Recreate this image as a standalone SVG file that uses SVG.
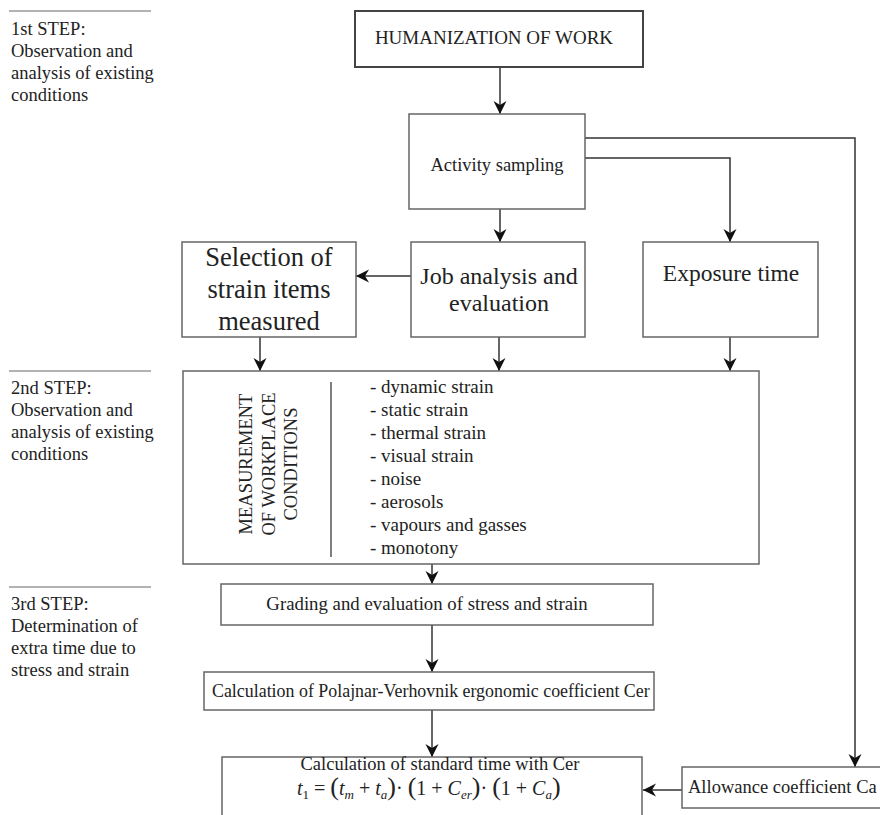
<svg xmlns="http://www.w3.org/2000/svg" width="880" height="815" viewBox="0 0 880 815">
<style>
text{font-family:"Liberation Serif","Times New Roman",serif;fill:#222;}
.box{fill:#fff;stroke:#666;stroke-width:1.5;}
.main{fill:#fff;stroke:#444;stroke-width:2;}
.sep{stroke:#999;stroke-width:1.5;}
.con{fill:none;stroke:#333;stroke-width:1.5;marker-end:url(#ah);}
.div{stroke:#555;stroke-width:1.5;}
.step{font-size:18.5px;}
.it{font-style:italic;}
</style>
<defs>
<marker id="ah" markerUnits="userSpaceOnUse" markerWidth="14" markerHeight="14" refX="13" refY="7" orient="auto">
<path d="M0,0.5 L13,7 L0,13.5 L4,7 z" fill="#111"/>
</marker>
</defs>
<rect width="880" height="815" fill="#fff"/>

<g id="steps">
<line class="sep" x1="9" y1="11" x2="151" y2="11"/>
<text class="step" x="11" y="35">1st STEP:</text>
<text class="step" x="11" y="57">Observation and</text>
<text class="step" x="11" y="79">analysis of existing</text>
<text class="step" x="11" y="101">conditions</text>
<line class="sep" x1="9" y1="371" x2="151" y2="371"/>
<text class="step" x="11" y="394">2nd STEP:</text>
<text class="step" x="11" y="416">Observation and</text>
<text class="step" x="11" y="438">analysis of existing</text>
<text class="step" x="11" y="460">conditions</text>
<line class="sep" x1="9" y1="587" x2="151" y2="587"/>
<text class="step" x="11" y="610">3rd STEP:</text>
<text class="step" x="11" y="632">Determination of</text>
<text class="step" x="11" y="654">extra time due to</text>
<text class="step" x="11" y="676">stress and strain</text>
</g>

<g id="connectors">
<line class="con" x1="500" y1="67" x2="500" y2="114"/>
<line class="con" x1="500" y1="209" x2="500" y2="242"/>
<polyline class="con" points="585,158 730,158 730,242"/>
<polyline class="con" points="585,138 855,138 855,767"/>
<line class="con" x1="411" y1="276" x2="356" y2="276"/>
<line class="con" x1="260" y1="337" x2="260" y2="371"/>
<line class="con" x1="499" y1="337" x2="499" y2="371"/>
<line class="con" x1="730" y1="337" x2="730" y2="371"/>
<line class="con" x1="432" y1="564" x2="432" y2="584"/>
<line class="con" x1="432" y1="625" x2="432" y2="672"/>
<line class="con" x1="432" y1="710" x2="432" y2="757"/>
<line class="con" x1="682" y1="790" x2="643" y2="790"/>
</g>

<g id="humanization">
<rect class="main" x="355" y="11" width="288" height="56"/>
<text x="494" y="44" font-size="19" text-anchor="middle">HUMANIZATION OF WORK</text>
</g>

<g id="activity">
<rect class="box" x="409" y="114" width="176" height="95"/>
<text x="497" y="171" font-size="18.5" text-anchor="middle">Activity sampling</text>
</g>

<g id="selection">
<rect class="box" x="182" y="242" width="174" height="95"/>
<text x="269" y="266" font-size="26.5" text-anchor="middle">Selection of</text>
<text x="269" y="298" font-size="26.5" text-anchor="middle">strain items</text>
<text x="269" y="330" font-size="26.5" text-anchor="middle">measured</text>
</g>

<g id="job">
<rect class="box" x="411" y="242" width="174" height="95"/>
<text x="499" y="284" font-size="24" text-anchor="middle">Job analysis and</text>
<text x="499" y="311" font-size="24" text-anchor="middle">evaluation</text>
</g>

<g id="exposure">
<rect class="box" x="643" y="242" width="175" height="95"/>
<text x="731" y="281" font-size="23.5" text-anchor="middle">Exposure time</text>
</g>

<g id="measurement">
<rect class="box" x="183" y="371" width="576" height="193"/>
<text font-size="18.5" text-anchor="middle" transform="translate(252,464) rotate(-90)">MEASUREMENT</text>
<text font-size="18.5" text-anchor="middle" transform="translate(275,464) rotate(-90)">OF WORKPLACE</text>
<text font-size="18.5" text-anchor="middle" transform="translate(297,464) rotate(-90)">CONDITIONS</text>
<line class="div" x1="331" y1="382" x2="331" y2="557"/>
<text x="370" y="393" font-size="19">- dynamic strain</text>
<text x="370" y="416" font-size="19">- static strain</text>
<text x="370" y="439" font-size="19">- thermal strain</text>
<text x="370" y="462" font-size="19">- visual strain</text>
<text x="370" y="485" font-size="19">- noise</text>
<text x="370" y="508" font-size="19">- aerosols</text>
<text x="370" y="531" font-size="19">- vapours and gasses</text>
<text x="370" y="554" font-size="19">- monotony</text>
</g>

<g id="grading">
<rect class="box" x="221" y="584" width="432" height="41"/>
<text x="427" y="610" font-size="18.8" text-anchor="middle">Grading and evaluation of stress and strain</text>
</g>

<g id="polajnar">
<rect class="box" x="204" y="672" width="450" height="38"/>
<text x="212" y="697" font-size="17.9">Calculation of Polajnar-Verhovnik ergonomic coefficient Cer</text>
</g>

<g id="standard-time">
<rect class="box" x="222" y="757" width="420" height="70"/>
<text x="440" y="770" font-size="18.5" text-anchor="middle">Calculation of standard time with Cer</text>
<text x="297" y="795" font-size="20"><tspan class="it">t</tspan><tspan font-size="13" dy="4">1</tspan><tspan dy="-4"> = </tspan><tspan font-size="26">(</tspan><tspan class="it">t</tspan><tspan class="it" font-size="13" dy="4">m</tspan><tspan dy="-4"> + </tspan><tspan class="it">t</tspan><tspan class="it" font-size="13" dy="4">a</tspan><tspan font-size="26" dy="-4">)</tspan><tspan>· </tspan><tspan font-size="26">(</tspan><tspan>1 + </tspan><tspan class="it">C</tspan><tspan class="it" font-size="13" dy="4">er</tspan><tspan font-size="26" dy="-4">)</tspan><tspan>· </tspan><tspan font-size="26">(</tspan><tspan>1 + </tspan><tspan class="it">C</tspan><tspan class="it" font-size="13" dy="4">a</tspan><tspan font-size="26" dy="-4">)</tspan></text>
</g>

<g id="allowance">
<rect class="box" x="682" y="767" width="220" height="41"/>
<text x="688" y="793" font-size="18.5">Allowance coefficient Ca</text>
</g>
</svg>
